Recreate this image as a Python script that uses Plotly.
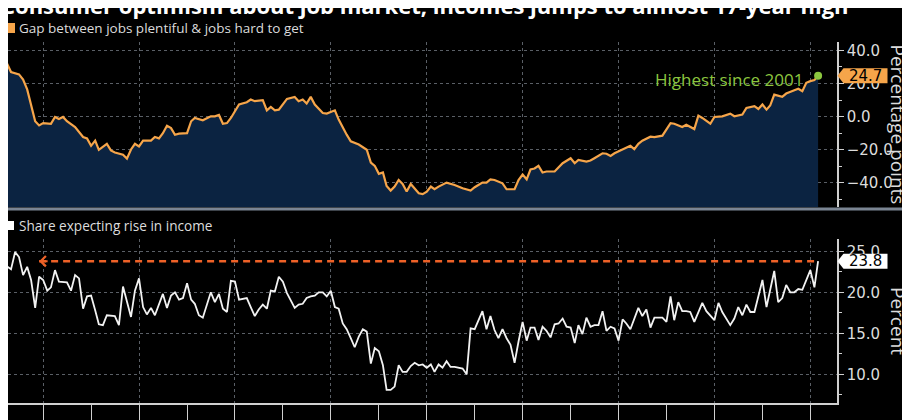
import plotly.graph_objects as go

# === Data ===
title_text = "Consumer optimism about job market, incomes jumps to almost 17-year high"
gap_label = "Gap between jobs plentiful & jobs hard to get"
income_label = "Share expecting rise in income"
gap_note = "Highest since 2001"

gap_dates = [
    "2001-02", "2001-03", "2001-04", "2001-05", "2001-07", "2001-08", "2001-09", "2001-10", "2001-11", "2001-12",
    "2002-01", "2002-03", "2002-04", "2002-05", "2002-06", "2002-07", "2002-09", "2002-11", "2002-12",
    "2003-01", "2003-02", "2003-03", "2003-05", "2003-06", "2003-07", "2003-09", "2003-10", "2003-11", "2003-12",
    "2004-01", "2004-02", "2004-04", "2004-05", "2004-06", "2004-07", "2004-08", "2004-09", "2004-10", "2004-11",
    "2005-01", "2005-02", "2005-03", "2005-05", "2005-07", "2005-08", "2005-09", "2005-10", "2005-11", "2005-12",
    "2006-02", "2006-04", "2006-05", "2006-06", "2006-08", "2006-09", "2006-10", "2006-11", "2006-12",
    "2007-02", "2007-04", "2007-05", "2007-06", "2007-07", "2007-08", "2007-09", "2007-11", "2007-12",
    "2008-02", "2008-03", "2008-05", "2008-06", "2008-08", "2008-10", "2008-11", "2008-12",
    "2009-01", "2009-02", "2009-03", "2009-04", "2009-05", "2009-06", "2009-07", "2009-08", "2009-09", "2009-10",
    "2009-11", "2009-12",
    "2010-01", "2010-02", "2010-03", "2010-04", "2010-06", "2010-08", "2010-09", "2010-10", "2010-12",
    "2011-01", "2011-03", "2011-04", "2011-05", "2011-06", "2011-08", "2011-09", "2011-11", "2011-12",
    "2012-01", "2012-02", "2012-03", "2012-04", "2012-05", "2012-06", "2012-07", "2012-09", "2012-11",
    "2013-01", "2013-02", "2013-03", "2013-05", "2013-06", "2013-07", "2013-09", "2013-10", "2013-11", "2013-12",
    "2014-02", "2014-04", "2014-05", "2014-06", "2014-07", "2014-09", "2014-10", "2014-12",
    "2015-02", "2015-03", "2015-05", "2015-06", "2015-08", "2015-09", "2015-10", "2015-12",
    "2016-01", "2016-03", "2016-05", "2016-06", "2016-08", "2016-09", "2016-11", "2016-12",
    "2017-01", "2017-02", "2017-03", "2017-04", "2017-06", "2017-07", "2017-09", "2017-10", "2017-11", "2017-12",
    "2018-01", "2018-02", "2018-03",
]
gap_values = [
    35.6, 32.5, 32.0, 26.9, 25.5, 22.4, 16.4, 6.3, -2.8, -5.3,
    -3.9, -4.3, -0.2, -1.4, -0.2, -2.8, -6.3, -12.3, -13.1,
    -17.6, -14.5, -20.0, -16.4, -20.4, -21.6, -23.0, -25.3, -19.8, -16.4,
    -18.0, -14.5, -14.5, -12.3, -13.1, -10.0, -5.5, -6.9, -10.9, -10.3,
    -10.0, -2.8, -0.8, -2.2, 0.2, 0.2, 1.0, -4.3, -3.9, -0.8,
    7.3, 8.7, 10.3, 9.3, 9.9, 3.8, 5.9, 3.8, 4.2,
    10.7, 11.9, 9.3, 10.3, 7.9, 11.9, 7.3, 2.2, 1.8,
    3.8, -1.8, -10.9, -14.9, -16.8, -20.0, -27.7, -29.7,
    -34.5, -33.7, -41.8, -44.6, -42.2, -38.2, -40.6, -45.2, -40.6, -43.2,
    -46.2, -46.7,
    -45.2, -42.2, -43.8, -42.2, -39.8, -41.2, -42.2, -43.2, -44.6,
    -42.6, -39.8, -39.8, -37.8, -38.2, -40.2, -43.8, -43.8, -38.2,
    -34.9, -37.8, -31.9, -31.3, -29.7, -33.7, -33.1, -33.1, -28.1,
    -25.1, -28.1, -26.1, -27.1, -26.5, -25.1, -22.1, -22.4, -23.7, -22.1,
    -20.0, -17.6, -19.6, -16.4, -14.5, -12.1, -12.3, -11.5,
    -3.9, -4.3, -6.3, -4.9, -7.5, 0.6, -0.8, -4.3,
    -0.2, 0.2, 1.8, 0.2, 1.2, 5.2, 6.3, 4.6,
    7.3, 4.2, 6.7, 13.3, 11.9, 13.9, 15.9, 16.8, 15.3, 20.4,
    21.4, 22.0, 24.7,
]

income_dates = [
    "2001-02", "2001-03", "2001-05", "2001-06", "2001-07", "2001-08", "2001-09", "2001-10", "2001-11", "2001-12",
    "2002-01", "2002-02", "2002-03", "2002-04", "2002-05", "2002-07", "2002-08", "2002-09", "2002-10", "2002-11",
    "2002-12",
    "2003-01", "2003-02", "2003-03", "2003-04", "2003-05", "2003-07", "2003-08", "2003-09", "2003-10", "2003-11",
    "2003-12",
    "2004-01", "2004-02", "2004-03", "2004-04", "2004-05", "2004-07", "2004-08", "2004-09", "2004-10", "2004-11",
    "2004-12",
    "2005-01", "2005-02", "2005-03", "2005-04", "2005-05", "2005-07", "2005-08", "2005-09", "2005-10", "2005-11",
    "2005-12",
    "2006-01", "2006-02", "2006-04", "2006-05", "2006-06", "2006-07", "2006-08", "2006-09", "2006-10", "2006-11",
    "2006-12",
    "2007-01", "2007-02", "2007-04", "2007-05", "2007-06", "2007-07", "2007-08", "2007-09", "2007-10", "2007-11",
    "2007-12",
    "2008-01", "2008-02", "2008-03", "2008-04", "2008-05", "2008-06", "2008-07", "2008-08", "2008-09", "2008-10",
    "2008-11", "2008-12",
    "2009-01", "2009-02", "2009-03", "2009-04", "2009-05", "2009-06", "2009-07", "2009-08", "2009-09", "2009-10",
    "2009-11", "2009-12",
    "2010-01", "2010-02", "2010-03", "2010-04", "2010-05", "2010-06", "2010-07", "2010-08", "2010-10", "2010-11",
    "2010-12",
    "2011-01", "2011-03", "2011-04", "2011-05", "2011-06", "2011-07", "2011-08", "2011-09", "2011-10", "2011-11",
    "2011-12",
    "2012-01", "2012-02", "2012-03", "2012-04", "2012-05", "2012-06", "2012-07", "2012-08", "2012-09", "2012-10",
    "2012-11", "2012-12",
    "2013-01", "2013-02", "2013-03", "2013-04", "2013-05", "2013-06", "2013-07", "2013-08", "2013-09", "2013-10",
    "2013-11", "2013-12",
    "2014-01", "2014-02", "2014-03", "2014-04", "2014-05", "2014-06", "2014-07", "2014-08", "2014-09", "2014-10",
    "2014-11", "2014-12",
    "2015-01", "2015-02", "2015-03", "2015-04", "2015-05", "2015-06", "2015-07", "2015-08", "2015-10", "2015-11",
    "2016-01", "2016-02", "2016-03", "2016-05", "2016-06", "2016-07", "2016-08", "2016-09", "2016-10", "2016-11",
    "2017-01", "2017-02", "2017-04", "2017-05", "2017-06", "2017-07", "2017-08", "2017-09", "2017-10", "2017-11",
    "2018-01", "2018-02", "2018-03",
]
income_values = [
    24.0, 23.5, 22.8, 24.9, 24.3, 22.1, 23.1, 21.5, 18.1, 21.9,
    21.5, 20.2, 20.6, 22.7, 21.3, 21.2, 20.2, 22.1, 21.7, 18.0,
    19.5,
    19.6, 17.8, 16.1, 16.0, 17.2, 17.1, 16.0, 20.7, 19.0, 17.0,
    20.2,
    21.7, 18.2, 17.3, 18.1, 17.2, 19.8, 18.1, 19.6, 20.0, 19.1,
    19.3,
    21.1, 19.1, 18.6, 17.2, 16.9, 20.0, 18.8, 19.8, 18.0, 17.6,
    21.4,
    21.3, 19.1, 19.3, 18.2, 17.1, 17.9, 18.5, 18.0, 20.2, 20.1,
    21.9,
    21.3, 19.9, 18.1, 18.5, 18.6, 19.3, 19.5, 19.6, 20.0, 20.0,
    19.5,
    20.2, 18.2, 18.0, 16.2, 15.5, 14.4, 13.3, 14.6, 15.5, 15.2,
    11.3, 13.2,
    12.8, 11.1, 8.1, 8.1, 8.5, 11.1, 10.3, 10.3, 11.0, 11.4,
    11.1, 11.2,
    10.8, 11.2, 10.3, 11.2, 10.8, 11.6, 10.9, 10.9, 10.7, 10.0,
    15.6,
    15.5, 17.7, 15.5, 17.1, 15.4, 14.4, 15.5, 14.4, 13.6, 11.4,
    14.0,
    16.4, 14.1, 15.7, 15.7, 14.2, 15.8, 15.3, 14.5, 16.1, 16.2,
    16.8, 15.8,
    15.7, 13.8, 16.0, 14.9, 16.9, 15.8, 16.0, 16.0, 17.7, 15.3,
    15.8, 15.6,
    14.1, 16.7, 16.2, 15.5, 16.8, 18.1, 17.1, 17.9, 15.7, 16.9,
    16.9, 16.9,
    16.4, 19.5, 16.6, 18.8, 17.7, 17.7, 17.6, 16.4, 18.7, 17.7,
    16.6, 18.7, 17.6, 16.0, 16.8, 18.2, 17.2, 18.5, 17.6, 17.6,
    21.5, 18.2, 22.6, 18.8, 19.3, 20.9, 20.0, 20.0, 20.4, 20.3,
    22.7, 20.6, 23.8,
]
income_ref_start = "2001-12"   # last time the share was this high

# === Layout constants ===
# the page body has an 8px margin, so the figure is drawn 8px in from the window edge
OFF = 8
W, H = 910 - OFF, 420 - OFF
ORANGE = "#f6a54a"
NAVY = "#0b2341"
GREEN = "#8cc63f"
RED_ORANGE = "#ee6127"
GRID = "#5a5f66"
AXIS = "#cfcfcf"
TXT = "#dcdcdc"
TEXT_FONT = "Open Sans, Liberation Sans, Arial, sans-serif"
NUM_FONT = "DejaVu Sans, sans-serif"

X_RANGE = ["2001-04-08", "2018-07-23"]
GAP_RANGE = [-54.5, 45]
INC_RANGE = [6.5, 26.5]


def px(x):
    # window pixel -> paper fraction
    return (x - OFF) / W


def py(y):
    return 1 - (y - OFF) / H


fig = go.Figure()

# top panel: navy area under the orange line
fig.add_trace(go.Scatter(x=gap_dates, y=[GAP_RANGE[0]] * len(gap_dates), mode="lines",
                         line=dict(width=0), hoverinfo="skip", xaxis="x", yaxis="y"))
fig.add_trace(go.Scatter(x=gap_dates, y=gap_values, mode="lines", fill="tonexty", fillcolor=NAVY,
                         line=dict(color=ORANGE, width=2.2), xaxis="x", yaxis="y"))
fig.add_trace(go.Scatter(x=[gap_dates[-1]], y=[gap_values[-1]], mode="markers",
                         marker=dict(color=GREEN, size=8), xaxis="x", yaxis="y"))

# bottom panel
fig.add_trace(go.Scatter(x=[income_ref_start, income_dates[-1]], y=[income_values[-1]] * 2, mode="lines",
                         line=dict(color=RED_ORANGE, width=2.5, dash="7px,5px"), xaxis="x2", yaxis="y2"))
fig.add_trace(go.Scatter(x=income_dates, y=income_values, mode="lines",
                         line=dict(color="#f2f2f2", width=1.8), xaxis="x2", yaxis="y2"))

x_dom = [0, px(837)]
xcommon = dict(type="date", range=X_RANGE, domain=x_dom, tick0="2002-01-01", dtick="M24",
               showgrid=True, gridcolor=GRID, griddash="dot", gridwidth=1, zeroline=False,
               fixedrange=True)
ycommon = dict(side="right", showline=True, linecolor=AXIS, linewidth=1.5,
               ticks="outside", ticklen=5, tickcolor=AXIS, tickformat=".1f",
               tickfont=dict(family=NUM_FONT, size=15, color=TXT),
               showgrid=True, gridcolor=GRID, griddash="dot", zeroline=False, automargin=False)

fig.update_layout(
    width=W, height=H,
    paper_bgcolor="black", plot_bgcolor="black",
    margin=dict(l=0, r=0, t=0, b=0),
    showlegend=False,
    xaxis=dict(xcommon, anchor="y", showticklabels=False, ticks=""),
    yaxis=dict(ycommon, domain=[py(207), py(42)], range=GAP_RANGE, anchor="x", dtick=20,
               minor=dict(dtick=10, ticks="outside", ticklen=3, tickcolor=AXIS, showgrid=False)),
    xaxis2=dict(xcommon, anchor="y2", showticklabels=False, showline=True, linecolor=AXIS, linewidth=1.5,
                ticks="outside", ticklen=17, tickcolor=AXIS,
                minor=dict(dtick="M12", ticks="outside", ticklen=17, tickcolor=AXIS, showgrid=False)),
    yaxis2=dict(ycommon, domain=[py(403), py(239)], range=INC_RANGE, anchor="x2", dtick=5,
                minor=dict(dtick=2.5, ticks="outside", ticklen=3, tickcolor=AXIS, showgrid=False)),
)

shapes = [
    # separator between panels
    dict(type="line", xref="paper", yref="paper", x0=0, x1=1, y0=py(209), y1=py(209),
         line=dict(color="#7b8593", width=3)),
    # legend swatches
    dict(type="rect", xref="paper", yref="paper", x0=px(5), x1=px(15), y0=py(33), y1=py(23),
         fillcolor=ORANGE, line=dict(width=0)),
    dict(type="rect", xref="paper", yref="paper", x0=px(5), x1=px(14), y0=py(230), y1=py(221),
         fillcolor="white", line=dict(width=0)),
]
box_path = "M0,0 L6,7.5 L50,7.5 L50,-7.5 L6,-7.5 Z"
for yref, val, col in [("y", gap_values[-1], ORANGE), ("y2", income_values[-1], "white")]:
    shapes.append(dict(type="path", xref="paper", xsizemode="pixel", xanchor=px(837.5),
                       yref=yref, ysizemode="pixel", yanchor=val, path=box_path,
                       fillcolor=col, line=dict(width=0)))

annotations = [
    dict(text="<b>" + title_text + "</b>", x=px(-1), y=py(22), xref="paper", yref="paper",
         xanchor="left", yanchor="bottom", showarrow=False,
         font=dict(family=TEXT_FONT, size=22, color="white")),
    dict(text=gap_label, x=px(17), y=py(28), xref="paper", yref="paper", xanchor="left",
         yanchor="middle", showarrow=False, font=dict(family=TEXT_FONT, size=13.5, color=TXT)),
    dict(text=income_label, x=px(17), y=py(225.5), xref="paper", yref="paper", xanchor="left",
         yanchor="middle", showarrow=False, font=dict(family=TEXT_FONT, size=13.6, color=TXT)),
    dict(text="Percentage points", x=px(898), y=py(124.5), xref="paper", yref="paper",
         xanchor="center", yanchor="middle", textangle=90, showarrow=False,
         font=dict(family=TEXT_FONT, size=19, color=TXT)),
    dict(text="Percent", x=px(898), y=py(321), xref="paper", yref="paper",
         xanchor="center", yanchor="middle", textangle=90, showarrow=False,
         font=dict(family=TEXT_FONT, size=19, color=TXT)),
    dict(text=gap_note, x=gap_dates[-1], y=gap_values[-1], xref="x", yref="y", xanchor="right",
         yanchor="middle", xshift=-13, yshift=-4, showarrow=False,
         font=dict(family=TEXT_FONT, size=17, color=GREEN)),
    dict(text=f"{gap_values[-1]:.1f}", x=px(865), y=gap_values[-1], xref="paper", yref="y",
         xanchor="center", yanchor="middle", showarrow=False,
         font=dict(family=NUM_FONT, size=15, color="black")),
    dict(text=f"{income_values[-1]:.1f}", x=px(865), y=income_values[-1], xref="paper", yref="y2",
         xanchor="center", yanchor="middle", showarrow=False,
         font=dict(family=NUM_FONT, size=15, color="black")),
    # arrow at the left end of the dashed reference line
    dict(x=income_ref_start, y=income_values[-1], xref="x2", yref="y2", text="", showarrow=True,
         ax=10, ay=0, arrowhead=4, arrowsize=1, arrowwidth=2, arrowcolor=RED_ORANGE),
]
fig.update_layout(shapes=shapes, annotations=annotations)

fig.write_html("out.html")
